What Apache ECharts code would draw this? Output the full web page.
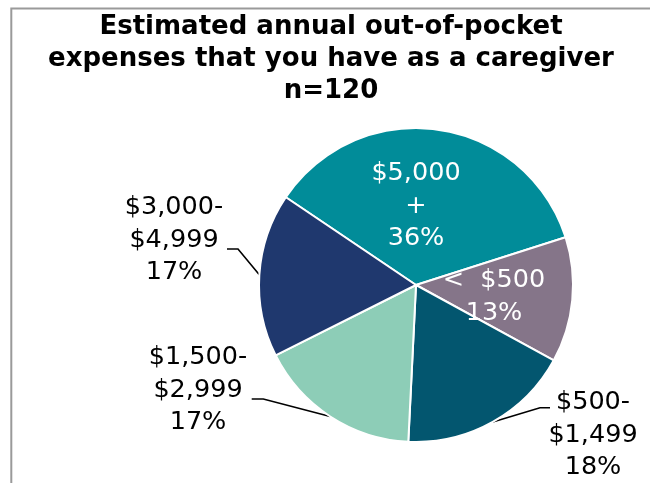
<!DOCTYPE html>
<html>
<head>
<meta charset="utf-8">
<script src="https://cdn.jsdelivr.net/npm/echarts@6/dist/echarts.min.js"></script>
<style>
html, body { margin: 0; padding: 0; background: #fff; }
#chart { width: 650px; height: 483px; }
</style>
</head>
<body>
<div id="chart"></div>
<script>
// survey buckets, clockwise from the top slice
const categories = ['$5,000 +', '< $500', '$500-$1,499', '$1,500-$2,999', '$3,000-$4,999']
const labelText = ['$5,000\n+', '<  $500', '$500-\n$1,499', '$1,500-\n$2,999', '$3,000-\n$4,999']
const percents = [36, 13, 18, 17, 17]
const insideLabels = [0, 1]
const titleText = 'Estimated annual out-of-pocket\nexpenses that you have as a caregiver\nn=120'

const cx = 416
const cy = 285
// where each label block sits, relative to the pie centre
const labelSpots = [[0, -79], [78, 12], [177, 150], [-218, 105], [-242, -45]]
// elbow + end of the leader lines, relative to the pie centre
const leaderBends = {
  2: [[124, 122.7], [134, 122.7]],
  3: [[-152.7, 114], [-164.3, 114]],
  4: [[-178, -36], [-189, -36]]
}

const chart = echarts.init(document.getElementById('chart'), null, { renderer: 'canvas' })

const data = categories.map((name, i) => {
  const item = { name: name, value: percents[i] }
  if (insideLabels.indexOf(i) > -1) {
    item.label = { position: 'inside', color: '#fff' }
    item.labelLine = { show: false }
  }
  return item
})

chart.setOption({
  animation: false,
  backgroundColor: '#fff',
  title: {
    text: titleText,
    left: 331,
    top: 11,
    padding: 0,
    textAlign: 'center',
    textStyle: {
      fontFamily: 'DejaVu Sans',
      fontWeight: 'bold',
      fontSize: 26,
      lineHeight: 32,
      color: '#000'
    }
  },
  graphic: [{
    type: 'rect',
    silent: true,
    shape: { x: 11.3, y: 8.5, width: 700, height: 600 },
    style: { fill: 'none', stroke: '#9a9a9a', lineWidth: 2 }
  }],
  color: ['#018C99', '#857589', '#03566F', '#8DCDB7', '#1F386E'],
  series: [{
    type: 'pie',
    center: [cx, cy],
    radius: 157,
    startAngle: 146,
    clockwise: true,
    avoidLabelOverlap: false,
    emphasis: { disabled: true },
    itemStyle: { borderColor: '#fff', borderWidth: 2 },
    label: {
      show: true,
      position: 'outside',
      color: '#000',
      fontFamily: 'DejaVu Sans',
      fontSize: 25.5,
      lineHeight: 32.5,
      formatter: p => labelText[p.dataIndex] + '\n' + p.value + '%'
    },
    labelLine: {
      show: true,
      lineStyle: { color: '#000', width: 1.6 }
    },
    labelLayout: params => {
      const i = params.dataIndex
      const spot = labelSpots[i]
      const out = {
        x: cx + spot[0],
        y: cy + spot[1],
        align: 'center',
        verticalAlign: 'middle'
      }
      const bends = leaderBends[i]
      if (bends && params.labelLinePoints) {
        const anchor = params.labelLinePoints[0]
        out.labelLinePoints = [
          [anchor[0], anchor[1]],
          [cx + bends[0][0], cy + bends[0][1]],
          [cx + bends[1][0], cy + bends[1][1]]
        ]
      }
      return out
    },
    data: data
  }]
})
</script>
</body>
</html>
